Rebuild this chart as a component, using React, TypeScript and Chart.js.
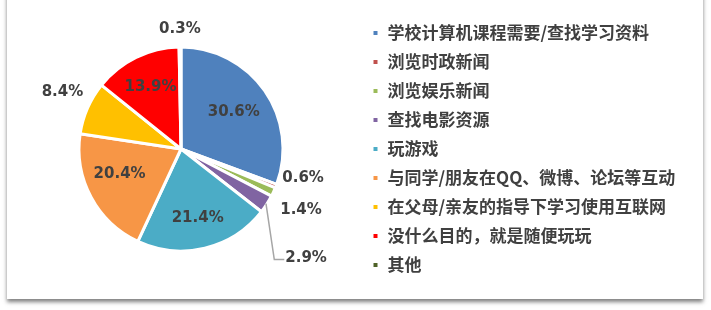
import React, { useEffect, useRef } from "react";
import { Chart, registerables } from "chart.js";

Chart.register(...registerables);

const categories = [
  "学校计算机课程需要/查找学习资料",
  "浏览时政新闻",
  "浏览娱乐新闻",
  "查找电影资源",
  "玩游戏",
  "与同学/朋友在QQ、微博、论坛等互动",
  "在父母/亲友的指导下学习使用互联网",
  "没什么目的，就是随便玩玩",
  "其他",
];

const values = [30.6, 0.6, 1.4, 2.9, 21.4, 20.4, 8.4, 13.9, 0.3];

const valueLabels = ["30.6%", "0.6%", "1.4%", "2.9%", "21.4%", "20.4%", "8.4%", "13.9%", "0.3%"];

const colors = [
  "#4F81BD",
  "#C0504D",
  "#9BBB59",
  "#8064A2",
  "#4BACC6",
  "#F79646",
  "#FFC000",
  "#FF0000",
  "#4F6228",
];

// label placement: f = distance as fraction of radius, d = angle shift in degrees
const labelPlacement = [
  { f: 0.63, d: 0 },
  { f: 1.23, d: -8 },
  { f: 1.32, d: 2 },
  { f: 1.63, d: 8.5, leader: true },
  { f: 0.7, d: 0 },
  { f: 0.65, d: 6 },
  { f: 1.29, d: 2 },
  { f: 0.68, d: 0 },
  { f: 1.18, d: 0 },
];

const labelPlugin = {
  id: "sliceLabels",
  afterDatasetsDraw(chart: any) {
    const ctx = chart.ctx;
    const meta = chart.getDatasetMeta(0);
    ctx.save();
    ctx.font = "bold 15px 'DejaVu Sans', sans-serif";
    ctx.fillStyle = "#404040";
    ctx.textAlign = "center";
    ctx.textBaseline = "middle";
    meta.data.forEach((arc: any, i: number) => {
      const p = arc.getProps(["x", "y", "startAngle", "endAngle", "outerRadius"], true);
      const mid0 = (p.startAngle + p.endAngle) / 2;
      const pl = labelPlacement[i];
      const mid = mid0 + (pl.d * Math.PI) / 180;
      const tx = p.x + Math.cos(mid) * p.outerRadius * pl.f;
      const ty = p.y + Math.sin(mid) * p.outerRadius * pl.f;
      const text = valueLabels[i];
      if (pl.leader) {
        const w = ctx.measureText(text).width;
        const left = tx - w / 2;
        const sx = p.x + Math.cos(mid0) * (p.outerRadius - 1);
        const sy = p.y + Math.sin(mid0) * (p.outerRadius - 1);
        ctx.save();
        ctx.strokeStyle = "#A6A6A6";
        ctx.lineWidth = 1.5;
        ctx.beginPath();
        ctx.moveTo(sx, sy);
        ctx.lineTo(left - 11, ty + 1);
        ctx.lineTo(left - 1, ty + 1);
        ctx.stroke();
        ctx.restore();
      }
      ctx.fillText(text, tx, ty);
    });
    ctx.restore();
  },
};

export default function App() {
  const ref = useRef<HTMLCanvasElement | null>(null);
  useEffect(() => {
    if (!ref.current) return;
    const chart = new Chart(ref.current, {
      type: "pie",
      data: {
        labels: categories,
        datasets: [
          {
            data: values,
            backgroundColor: colors,
            borderColor: "#FFFFFF",
            borderWidth: 3,
            radius: 102,
          } as any,
        ],
      },
      options: {
        responsive: false,
        animation: false,
        layout: { padding: { left: 2, right: 0, top: 0, bottom: 12 } },
        plugins: {
          tooltip: { enabled: false },
          legend: {
            position: "right",
            labels: {
              boxWidth: 7,
              boxHeight: 7,
              padding: 12,
              color: "#404040",
              font: { family: "'Noto Sans CJK SC', sans-serif", size: 17, weight: "bold" },
            },
          },
        },
      } as any,
      plugins: [labelPlugin],
    });
    for (let k = 0; k < 3; k++) {
      const lw = (chart as any).legend.width;
      (chart.options as any).layout.padding = { left: 2, right: Math.max(0, 351 - lw), top: 0, bottom: 12 };
      chart.update();
    }
    return () => chart.destroy();
  }, []);
  return (
    <div style={{ position: "fixed", left: 0, top: 0, width: 711, height: 310, background: "#fff", overflow: "hidden" }}>
      <div
        style={{
          position: "absolute",
          left: 7,
          top: -10,
          width: 696,
          height: 309,
          background: "#fff",
          boxShadow: "0 3px 4px rgba(0,0,0,0.5)",
        }}
      />
      <canvas ref={ref} width={711} height={310} style={{ position: "absolute", left: 0, top: 0 }} />
    </div>
  );
}
